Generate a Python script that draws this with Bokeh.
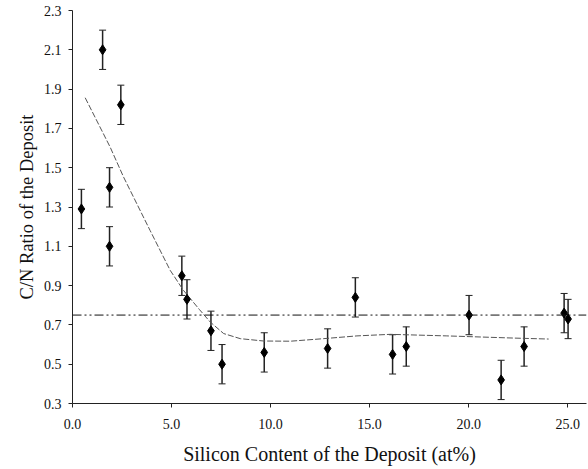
from bokeh.plotting import figure
from bokeh.models import ColumnDataSource, Whisker, TeeHead, Span, FixedTicker, Range1d
from bokeh.embed import file_html
from bokeh.resources import INLINE

# Data
si_content = [0.45, 1.52, 1.87, 1.87, 2.44, 5.52, 5.78, 6.99, 7.55, 9.68,
              12.88, 14.28, 16.16, 16.85, 20.02, 21.64, 22.80, 24.82, 25.02]
cn_ratio = [1.29, 2.10, 1.40, 1.10, 1.82, 0.95, 0.83, 0.67, 0.50, 0.56,
            0.58, 0.84, 0.55, 0.59, 0.75, 0.42, 0.59, 0.76, 0.73]
cn_error = [0.10] * len(cn_ratio)

fit_x = [0.64, 1.90, 2.58, 3.92, 4.93, 5.60, 6.41, 6.95, 7.63, 8.47, 9.65,
         11.0, 12.68, 14.36, 16.05, 18.9, 22.27, 24.04]
fit_y = [1.856, 1.605, 1.452, 1.18, 0.978, 0.876, 0.778, 0.715, 0.656, 0.63, 0.618,
         0.617, 0.63, 0.644, 0.652, 0.644, 0.633, 0.628]

reference_level = 0.75

x_ticks = [0, 5, 10, 15, 20, 25]
x_tick_labels = ["0.0", "5.0", "10.0", "15.0", "20.0", "25.0"]
y_ticks = [0.3, 0.5, 0.7, 0.9, 1.1, 1.3, 1.5, 1.7, 1.9, 2.1, 2.3]
y_tick_labels = ["0.3", "0.5", "0.7", "0.9", "1.1", "1.3", "1.5", "1.7", "1.9", "2.1", "2.3"]

FONT = "Liberation Serif"

p = figure(width=588, height=469, output_backend="svg", toolbar_location=None,
           x_range=Range1d(0, 25.95), y_range=Range1d(0.3, 2.3),
           min_border_left=72, min_border_right=2, min_border_top=10, min_border_bottom=66)
p.outline_line_color = None
p.xgrid.visible = False
p.ygrid.visible = False
p.background_fill_color = "white"
p.border_fill_color = "white"

src = ColumnDataSource(dict(
    x=si_content, y=cn_ratio,
    lo=[v - e for v, e in zip(cn_ratio, cn_error)],
    hi=[v + e for v, e in zip(cn_ratio, cn_error)],
))

# reference level line
p.add_layout(Span(location=reference_level, dimension="width", line_color="#111111",
                  line_width=1, line_dash="9 3 2 3 2 3"))

# fitted trend curve
p.line(fit_x, fit_y, line_color="#555555", line_width=1, line_dash="6 2")

# error bars
wh = Whisker(source=src, base="x", lower="lo", upper="hi",
             line_color="#222222", line_width=1.5,
             upper_head=TeeHead(size=7, line_color="#222222", line_width=1),
             lower_head=TeeHead(size=7, line_color="#222222", line_width=1))
p.add_layout(wh)

p.scatter("x", "y", source=src, marker="diamond", size=10,
          fill_color="black", line_color="black")

for ax in (p.xaxis[0], p.yaxis[0]):
    ax.major_tick_in = 0
    ax.major_tick_out = 4
    ax.minor_tick_line_color = None
    ax.axis_line_color = "#222222"
    ax.major_tick_line_color = "#222222"
    ax.major_label_text_font = FONT
    ax.major_label_text_font_size = "14px"
    ax.major_label_text_color = "#111111"
    ax.axis_label_text_font = FONT
    ax.axis_label_text_font_style = "normal"
    ax.axis_label_text_color = "#111111"

p.xaxis.axis_label_text_font_size = "20px"
p.yaxis.axis_label_text_font_size = "18.5px"

p.xaxis.ticker = FixedTicker(ticks=x_ticks)
p.xaxis.major_label_overrides = dict(zip(x_ticks, x_tick_labels))
p.yaxis.ticker = FixedTicker(ticks=y_ticks)
p.yaxis.major_label_overrides = dict(zip(y_ticks, y_tick_labels))

p.xaxis.axis_label = "Silicon Content of the Deposit (at%)"
p.yaxis.axis_label = "C/N Ratio of the Deposit"
p.xaxis.major_label_standoff = 11
p.xaxis.axis_label_standoff = 11
p.yaxis.major_label_standoff = 7
p.yaxis.axis_label_standoff = 4

open("out.html", "w").write(file_html(p, INLINE))
